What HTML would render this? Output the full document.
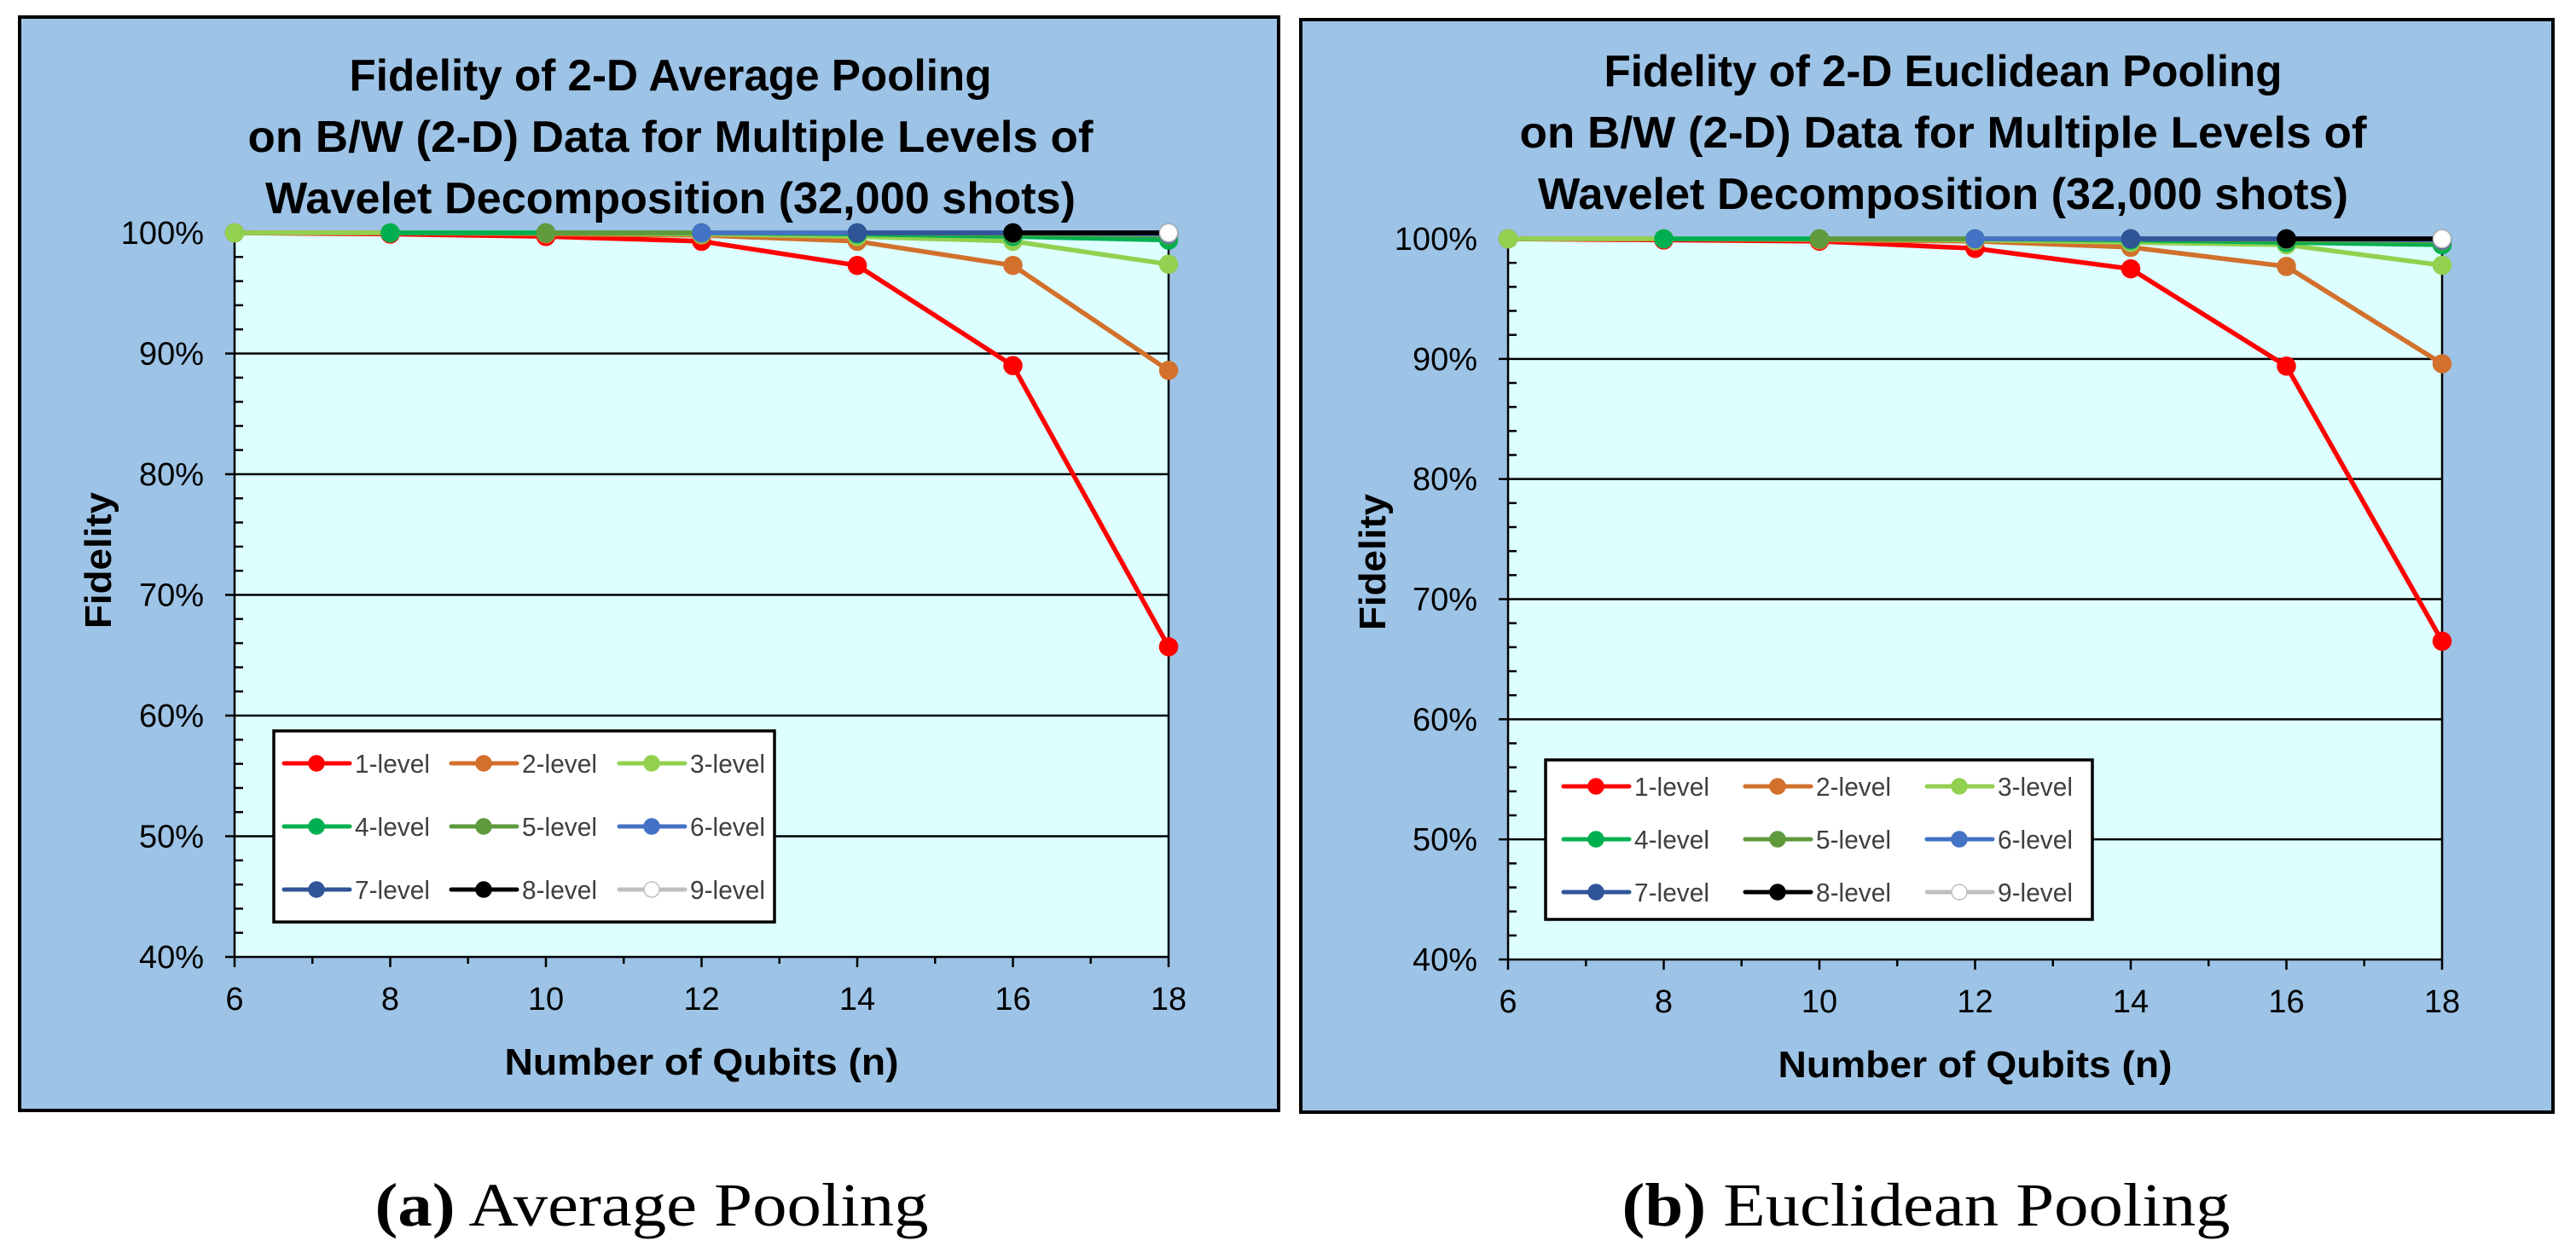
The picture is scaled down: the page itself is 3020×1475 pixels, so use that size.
<!DOCTYPE html>
<html><head><meta charset="utf-8"><style>
html,body{margin:0;padding:0;background:#fff;}
svg{display:block;}
text{font-family:"Liberation Sans",sans-serif;}
</style></head><body>
<svg id="fig" width="3020" height="1475" viewBox="0 0 3020 1475" xmlns="http://www.w3.org/2000/svg"></svg>
<script>
// ---- data ----
const qubits = [6, 8, 10, 12, 14, 16, 18];
const levelNames = ["1-level","2-level","3-level","4-level","5-level","6-level","7-level","8-level","9-level"];
const yTicks = [40, 50, 60, 70, 80, 90, 100];
const yTickLabels = ["40%","50%","60%","70%","80%","90%","100%"];
const xTickLabels = ["6","8","10","12","14","16","18"];
// Average pooling (values per qubit count; null = no point)
const avg1 = [100, 99.9, 99.7, 99.3, 97.3, 89.0, 65.7];
const avg2 = [100, 100, 99.9, 99.8, 99.3, 97.3, 88.6];
const avg3 = [100, 100, 100, 99.9, 99.7, 99.3, 97.4];
const avg4 = [null, 100, 100, 100, 99.9, 99.7, 99.4];
const avg5 = [null, null, 100, 100, 100, 99.9, 99.8];
const avg6 = [null, null, null, 100, 100, 100, 99.9];
const avg7 = [null, null, null, null, 100, 100, 100];
const avg8 = [null, null, null, null, null, 100, 100];
const avg9 = [null, null, null, null, null, null, 100];
// Euclidean pooling
const euc1 = [100, 99.9, 99.8, 99.2, 97.5, 89.4, 66.5];
const euc2 = [100, 100, 99.9, 99.8, 99.3, 97.7, 89.6];
const euc3 = [100, 100, 100, 99.9, 99.7, 99.5, 97.8];
const euc4 = [null, 100, 100, 100, 99.9, 99.7, 99.5];
const euc5 = [null, null, 100, 100, 100, 99.9, 99.8];
const euc6 = [null, null, null, 100, 100, 100, 99.9];
const euc7 = [null, null, null, null, 100, 100, 100];
const euc8 = [null, null, null, null, null, 100, 100];
const euc9 = [null, null, null, null, null, null, 100];

const colors = ["#FF0000","#D2702C","#92D050","#00B050","#5F9A3C","#4472C4","#2F5597","#000000","#BFBFBF"];
const NS = "http://www.w3.org/2000/svg";
const svg = document.getElementById("fig");
function mk(tag, attrs, parent, txt){
  const e = document.createElementNS(NS, tag);
  for (const k in attrs) e.setAttribute(k, attrs[k]);
  if (txt !== undefined) e.textContent = txt;
  (parent || svg).appendChild(e);
  return e;
}

function panel(cfg, series){
  const g = mk("g", {});
  
  
  const bg = mk("rect", {x:cfg.px, y:cfg.py, width:cfg.pw, height:cfg.ph, fill:"#9DC3E6", stroke:"#000", "stroke-width":4}, g);
  
  
  const X = v => cfg.x0 + (v - 6) / 12 * (cfg.x1 - cfg.x0);
  const Y = v => cfg.y1 - (v - 40) / 60 * (cfg.y1 - cfg.y0);
  const plot = mk("rect", {x:cfg.x0, y:cfg.y0, width:cfg.x1-cfg.x0, height:cfg.y1-cfg.y0, fill:"#DDFFFF"}, g);
  
  
  cfg.title.forEach((t, i) => {
    const te = mk("text", {x:cfg.tx, y:cfg.ty[i], "text-anchor":"middle", "font-size":52, "font-weight":"bold", fill:"#000", textLength:cfg.tw[i], lengthAdjust:"spacingAndGlyphs"}, g, t);
    
    
  });
  yTicks.forEach((v, i) => {
    if (v > 40 && v < 100) {
      const gl = mk("line", {x1:cfg.x0, x2:cfg.x1, y1:Y(v), y2:Y(v), stroke:"#000", "stroke-width":2.5}, g);
      
      
    }
    const lb = mk("text", {x:cfg.x0 - 36, y:Y(v) + 13, "text-anchor":"end", "font-size":38, fill:"#000"}, g, yTickLabels[i]);
    
    
    mk("line", {x1:cfg.x0 - 11, x2:cfg.x0, y1:Y(v), y2:Y(v), stroke:"#000", "stroke-width":2.5}, g);
  });
  for (let v = 42; v < 100; v += 2) {
    if (v % 10 === 0) continue;
    mk("line", {x1:cfg.x0, x2:cfg.x0 + 10, y1:Y(v), y2:Y(v), stroke:"#000", "stroke-width":2.5}, g);
  }
  mk("line", {x1:cfg.x0, x2:cfg.x0, y1:cfg.y0, y2:cfg.y1, stroke:"#000", "stroke-width":2.5}, g);
  mk("line", {x1:cfg.x1, x2:cfg.x1, y1:cfg.y0, y2:cfg.y1, stroke:"#000", "stroke-width":2.5}, g);
  mk("line", {x1:cfg.x0, x2:cfg.x1, y1:cfg.y1, y2:cfg.y1, stroke:"#000", "stroke-width":2.5}, g);
  mk("line", {x1:cfg.x0, x2:cfg.x1, y1:cfg.y0, y2:cfg.y0, stroke:"#000", "stroke-width":1.5}, g);
  for (let q = 6; q <= 18; q++) {
    mk("line", {x1:X(q), x2:X(q), y1:cfg.y1, y2:cfg.y1 + (q % 2 === 0 ? 12 : 8), stroke:"#000", "stroke-width":2.5}, g);
  }
  qubits.forEach((q, i) => {
    const lb = mk("text", {x:X(q), y:cfg.y1 + 62, "text-anchor":"middle", "font-size":38, fill:"#000"}, g, xTickLabels[i]);
    
    
  });
  const xt = mk("text", {x:(cfg.x0 + cfg.x1) / 2, y:cfg.y1 + 138, "text-anchor":"middle", "font-size":44, "font-weight":"bold", fill:"#000", textLength:462, lengthAdjust:"spacingAndGlyphs"}, g, "Number of Qubits (n)");
  
  
  const yt = mk("text", {x:0, y:0, "text-anchor":"middle", "font-size":44, "font-weight":"bold", fill:"#000", textLength:160, lengthAdjust:"spacingAndGlyphs", transform:`translate(${cfg.ytx},${cfg.yty}) rotate(-90)`}, g, "Fidelity");
  
  
  series.forEach((vals, s) => {
    const sg = mk("g", {}, g);
    
    
    const pts = [];
    vals.forEach((v, i) => { if (v !== null) pts.push([X(qubits[i]), Y(v)]); });
    if (pts.length > 1) {
      mk("polyline", {points:pts.map(p => p.join(",")).join(" "), fill:"none", stroke:colors[s], "stroke-width":5.5, "stroke-linejoin":"round"}, sg);
    }
    pts.forEach(p => {
      const c = mk("circle", {cx:p[0], cy:p[1], r:10.5, fill: s === 8 ? "#fff" : colors[s], stroke: s === 8 ? "#BFBFBF" : colors[s], "stroke-width":1.5}, sg);
      
      
    });
  });
  const L = cfg.leg;
  const lg = mk("g", {}, g);
  
  
  mk("rect", {x:L.x, y:L.y, width:L.w, height:L.h, fill:"#fff", stroke:"#000", "stroke-width":3.5}, lg);
  levelNames.forEach((nm, s) => {
    const col = s % 3, row = Math.floor(s / 3);
    const lx = L.cols[col], ly = L.rows[row];
    const eg = mk("g", {}, lg);
    
    
    mk("line", {x1:lx, x2:lx + 77, y1:ly, y2:ly, stroke:colors[s], "stroke-width":5, "stroke-linecap":"round"}, eg);
    mk("circle", {cx:lx + 38, cy:ly, r:9, fill: s === 8 ? "#fff" : colors[s], stroke: s === 8 ? "#BFBFBF" : colors[s], "stroke-width":1.5}, eg);
    mk("text", {x:lx + 83, y:ly + 11, "font-size":31, fill:"#404040", textLength:88, lengthAdjust:"spacingAndGlyphs"}, eg, nm);
  });
  const cap = mk("text", {x:cfg.capx, y:1437, "text-anchor":"middle", "font-size":72, fill:"#000", textLength:cfg.capw, lengthAdjust:"spacingAndGlyphs", style:"font-family:'Liberation Serif',serif"}, svg);
  
  
  mk("tspan", {"font-weight":"bold"}, cap, cfg.capA);
  mk("tspan", {}, cap, " " + cfg.capB);
}

panel({
  name:"average-pooling-chart", px:23, py:20, pw:1476, ph:1282,
  x0:275, x1:1370, y0:273, y1:1122,
  title:["Fidelity of 2-D Average Pooling","on B/W (2-D) Data for Multiple Levels of","Wavelet Decomposition (32,000 shots)"],
  tx:786, ty:[106,178,250], tw:[753,991,950],
  ytx:130, yty:657,
  leg:{x:321, y:857, w:587, h:224, rows:[895,969,1043], cols:[333,529,726]},
  capx:764, capw:649, capA:"(a)", capB:"Average Pooling"
}, [avg1,avg2,avg3,avg4,avg5,avg6,avg7,avg8,avg9]);

panel({
  name:"euclidean-pooling-chart", px:1525, py:23, pw:1468, ph:1281,
  x0:1768, x1:2863, y0:280, y1:1125,
  title:["Fidelity of 2-D Euclidean Pooling","on B/W (2-D) Data for Multiple Levels of","Wavelet Decomposition (32,000 shots)"],
  tx:2278, ty:[101,173,245], tw:[795,993,950],
  ytx:1624, yty:659,
  leg:{x:1812, y:891, w:641, h:187, rows:[922,984,1046], cols:[1833,2046,2259]},
  capx:2258, capw:713, capA:"(b)", capB:"Euclidean Pooling"
}, [euc1,euc2,euc3,euc4,euc5,euc6,euc7,euc8,euc9]);
</script>
</body></html>
